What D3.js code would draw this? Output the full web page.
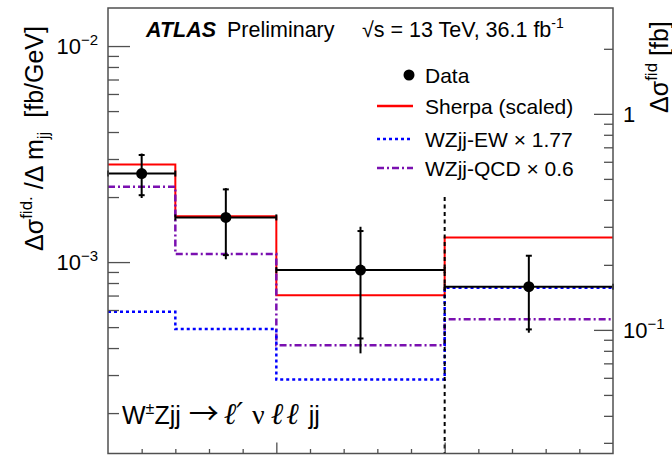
<!DOCTYPE html>
<html><head><meta charset="utf-8">
<script src="https://cdn.jsdelivr.net/npm/d3@7"></script>
<style>
body{margin:0;background:#fff}
svg{display:block}
text{font-family:"Liberation Sans",Arial,Helvetica,sans-serif;white-space:pre;fill:#000}
</style>
</head><body>
<svg id="c" width="672" height="456"></svg>
<script>
// ---- data ----
const binEdges   = [500, 700, 1000, 1500, 2000];
const binCenters = [600, 850, 1250, 1750];
const dataValues = [2.57e-3, 1.61e-3, 9.18e-4, 7.69e-4];
const statUp     = [3.13e-3, 2.17e-3, 1.392e-3, 1.07e-3];
const statDown   = [2.04e-3, 1.077e-3, 4.43e-4, 4.88e-4];
const totalUp    = [3.18e-3, 2.20e-3, 1.457e-3, 1.078e-3];
const totalDown  = [1.98e-3, 1.03e-3, 3.78e-4, 4.71e-4];
const sherpa     = [2.83e-3, 1.63e-3, 7.03e-4, 1.30e-3];
const wzjjEW     = [5.89e-4, 4.90e-4, 2.86e-4, 7.60e-4];
const wzjjQCD    = [2.23e-3, 1.089e-3, 4.12e-4, 5.43e-4];
const overflowEdge = 1500;
const overflowLineTop = 2.0e-3;
const yDomain = [1.3e-4, 1.5e-2];
const xDomain = [500, 2000];
const rightFactor = 206;
const leftMajor = [1e-3, 1e-2];
const leftMinor = [2e-4,3e-4,4e-4,5e-4,6e-4,7e-4,8e-4,9e-4,2e-3,3e-3,4e-3,5e-3,6e-3,7e-3,8e-3,9e-3];
const rightMajor = [0.1, 1];
const rightMinor = [0.03,0.04,0.05,0.06,0.07,0.08,0.09,0.2,0.3,0.4,0.5,0.6,0.7,0.8,0.9,2];
const xMajor = [1000, 1500];
const xMinor = [600,700,800,900,1100,1200,1300,1400,1600,1700,1800,1900];
const leftTickLabels = [{v:1e-3, base:"10", exp:"−3"}, {v:1e-2, base:"10", exp:"−2"}];
const rightTickLabels = [{v:0.1, base:"10", exp:"−1"}, {v:1, base:"1", exp:""}];
const legendLabels = ["Data", "Sherpa (scaled)", "WZjj-EW × 1.77", "WZjj-QCD × 0.6"];

// ---- layout ----
const L = 108, R = 613, T = 8, B = 453.5;
const frameColor = "#505050";
const svg = d3.select("#c");

const x = d3.scaleLinear().domain(xDomain).range([L, R]);
const y = d3.scaleLog().domain(yDomain).range([B, T]);
const yR = d3.scaleLog().domain(yDomain.map(d => d * rightFactor)).range([B, T]);

// ---- histograms ----
const step = d3.line().x(d => x(d[0])).y(d => y(d[1])).curve(d3.curveStepAfter);
function stepPts(vals){ const p = vals.map((v,i)=>[binEdges[i], v]); p.push([binEdges[binEdges.length-1], vals[vals.length-1]]); return p; }

svg.append("path").attr("d", step(stepPts(sherpa))).attr("fill","none").attr("stroke","#ff0000").attr("stroke-width",2);
svg.append("path").attr("d", step(stepPts(wzjjQCD))).attr("fill","none").attr("stroke","#7a10b0").attr("stroke-width",2.5).attr("stroke-dasharray","7,3,2,3");
svg.append("path").attr("d", step(stepPts(wzjjEW))).attr("fill","none").attr("stroke","#0000ff").attr("stroke-width",2.5).attr("stroke-dasharray","3,3");

// overflow separator
svg.append("line").attr("x1", x(overflowEdge)).attr("x2", x(overflowEdge))
  .attr("y1", y(overflowLineTop)).attr("y2", B)
  .attr("stroke","#000").attr("stroke-width",2).attr("stroke-dasharray","4,3.5");

// ---- data points ----
const dg = svg.append("g").attr("stroke","#000").attr("stroke-width",2);
dataValues.forEach((v,i)=>{
  const cx = x(binCenters[i]), cy = y(v);
  const x0 = x(binEdges[i]), x1 = x(binEdges[i+1]);
  dg.append("line").attr("x1",x0).attr("x2",x1).attr("y1",cy).attr("y2",cy);
  dg.append("line").attr("x1",x0).attr("x2",x0).attr("y1",cy-3).attr("y2",cy+3);
  dg.append("line").attr("x1",x1).attr("x2",x1).attr("y1",cy-3).attr("y2",cy+3);
  dg.append("line").attr("x1",cx).attr("x2",cx).attr("y1",y(totalUp[i])).attr("y2",y(totalDown[i]));
  [statUp[i], statDown[i]].forEach(s=>{
    dg.append("line").attr("x1",cx-3).attr("x2",cx+3).attr("y1",y(s)).attr("y2",y(s));
  });
  svg.append("circle").attr("cx",cx).attr("cy",cy).attr("r",5.5).attr("fill","#000");
});

// ---- frame & axes ----
svg.append("rect").attr("x",L).attr("y",T).attr("width",R-L).attr("height",B-T)
  .attr("fill","none").attr("stroke",frameColor).attr("stroke-width",1.5);

function axisG(gen, tr){
  const g = svg.append("g").attr("transform",tr).attr("color",frameColor).call(gen);
  g.select(".domain").remove();
  g.selectAll("line").attr("stroke-width",1.3);
  return g;
}
axisG(d3.axisRight(y).tickValues(leftMajor).tickSize(22).tickFormat(""), `translate(${L},0)`);
axisG(d3.axisRight(y).tickValues(leftMinor).tickSize(11).tickFormat(""), `translate(${L},0)`);
axisG(d3.axisLeft(yR).tickValues(rightMajor).tickSize(19).tickFormat(""), `translate(${R},0)`);
axisG(d3.axisLeft(yR).tickValues(rightMinor).tickSize(9).tickFormat(""), `translate(${R},0)`);
axisG(d3.axisTop(x).tickValues(xMajor).tickSize(11).tickFormat(""), `translate(0,${B})`);
axisG(d3.axisTop(x).tickValues(xMinor).tickSize(4.5).tickFormat(""), `translate(0,${B})`);

// tick labels
leftTickLabels.forEach(t=>{
  const tx = svg.append("text").attr("x",98).attr("y",y(t.v)+8).attr("text-anchor","end").attr("font-size",22);
  tx.append("tspan").text(t.base);
  tx.append("tspan").attr("dy",-9).attr("font-size",15).text(t.exp);
});
rightTickLabels.forEach(t=>{
  const tx = svg.append("text").attr("x",623).attr("y",yR(t.v)+8).attr("font-size",22);
  tx.append("tspan").text(t.base);
  if (t.exp) tx.append("tspan").attr("dy",-9).attr("font-size",15).text(t.exp);
});

// axis titles
const lt = svg.append("text").attr("transform","translate(43,251) rotate(-90)").attr("font-size",25);
lt.append("tspan").text("Δσ");
lt.append("tspan").attr("dy",-11).attr("font-size",17).text("fid.");
lt.append("tspan").attr("dy",11).text(" /Δ m");
lt.append("tspan").attr("dy",6).attr("font-size",17).text("jj");
lt.append("tspan").attr("dy",-6).text("  [fb/GeV]");

const rt = svg.append("text").attr("transform","translate(668,113) rotate(-90)").attr("font-size",25);
rt.append("tspan").text("Δσ");
rt.append("tspan").attr("dy",-11).attr("font-size",17).text("fid");
rt.append("tspan").attr("dy",11).text(" [fb]");

// header
svg.append("text").attr("x",146).attr("y",37).attr("font-size",21.5)
  .attr("font-weight","bold").attr("font-style","italic").text("ATLAS");
svg.append("text").attr("x",227).attr("y",37).attr("font-size",21.5).text("Preliminary");
const en = svg.append("text").attr("x",362).attr("y",37).attr("font-size",21.5);
en.append("tspan").text("√s = 13 TeV, 36.1 fb");
en.append("tspan").attr("dy",-9).attr("font-size",14).text("-1");

// legend
const lgX0 = 377, lgX1 = 413, lgTX = 425, lgY = [75, 106, 139, 168];
svg.append("circle").attr("cx",(lgX0+lgX1)/2+14).attr("cy",lgY[0]).attr("r",5.5).attr("fill","#000");
const lgStyles = [null, {c:"#ff0000", w:2.5, d:null}, {c:"#0000ff", w:2.5, d:"3,3"}, {c:"#7a10b0", w:2.5, d:"7,3,2,3"}];
legendLabels.forEach((lab,i)=>{
  if (lgStyles[i]) {
    const s = lgStyles[i];
    svg.append("line").attr("x1",lgX0).attr("x2",lgX1).attr("y1",lgY[i]).attr("y2",lgY[i])
      .attr("stroke",s.c).attr("stroke-width",s.w).attr("stroke-dasharray",s.d);
  }
  svg.append("text").attr("x",lgTX).attr("y",lgY[i]+7.5).attr("font-size",21).text(lab);
});

// process annotation
const an = svg.append("text").attr("x",122).attr("y",424).attr("font-size",25);
an.append("tspan").text("W");
an.append("tspan").attr("dy",-10).attr("font-size",16).text("±");
an.append("tspan").attr("dy",10).text("Zjj");
an.append("tspan").attr("dx",8).attr("font-family","Noto Sans CJK SC").attr("font-size",30).text("→");
an.append("tspan").attr("dx",5).attr("font-family","DejaVu Serif").attr("font-style","italic").attr("font-size",30).text("ℓ′");
an.append("tspan").attr("dx",9).attr("font-family","Liberation Serif").attr("font-size",28).text("ν");
an.append("tspan").attr("dx",6).attr("font-family","DejaVu Serif").attr("font-style","italic").attr("font-size",30).attr("letter-spacing",3).text("ℓℓ");
an.append("tspan").attr("dx",7).text("jj");
</script>
</body></html>
